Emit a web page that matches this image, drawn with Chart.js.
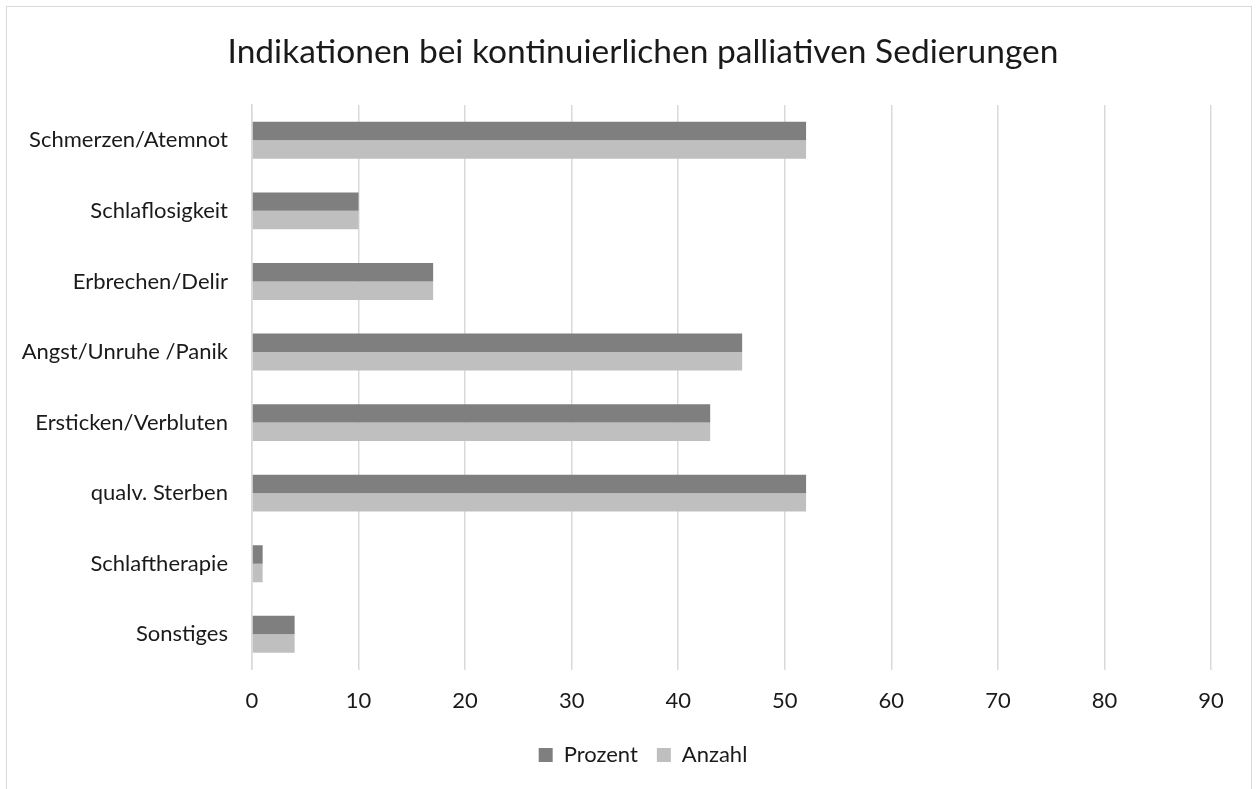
<!DOCTYPE html>
<html lang="de">
<head>
<meta charset="utf-8">
<title>Indikationen bei kontinuierlichen palliativen Sedierungen</title>
<script src="https://cdn.jsdelivr.net/npm/chart.js@4.4.1/dist/chart.umd.min.js"></script>
<style>
  html, body { margin: 0; padding: 0; background: #fff; }
  #wrap { position: relative; width: 1259px; height: 789px; overflow: hidden; }
  #frame {
    position: absolute; left: 6px; top: 6px; width: 1246px; height: 820px;
    border: 1px solid #d9d9d9; box-sizing: border-box; pointer-events: none;
  }
  canvas { position: absolute; left: 0; top: 0; }
</style>
</head>
<body>
<div id="wrap">
  <canvas id="chart" width="1259" height="789"></canvas>
  <div id="frame"></div>
</div>
<script>
const Chart = window.Chart;

// ── Data ───────────────────────────────────────────────────────
const categories = [
  'Schmerzen/Atemnot',
  'Schlaflosigkeit',
  'Erbrechen/Delir',
  'Angst/Unruhe /Panik',
  'Ersticken/Verbluten',
  'qualv. Sterben',
  'Schlaftherapie',
  'Sonstiges',
];
const prozent = [52, 10, 17, 46, 43, 52, 1, 4];
const anzahl  = [52, 10, 17, 46, 43, 52, 1, 4];
const xTicks  = [0, 10, 20, 30, 40, 50, 60, 70, 80, 90];

// ── Look ───────────────────────────────────────────────────────
const FONT      = 'Lato, "Open Sans", sans-serif';
const textColor = '#1a1a1a';
const gridColor = '#d9d9d9';

// left padding shifts title/legend centre to the right of the plot centre
const PAD_LEFT  = 75;
const PAD_RIGHT = 48;
const AXIS_X0   = 252;   // pixel of the value axis origin

// category labels reach into the left padding, so widen the label clip box
const labelClip = {
  id: 'labelClip',
  afterLayout: chart => { chart.scales.y.left = 0; },
};

new Chart(document.getElementById('chart').getContext('2d'), {
  type: 'bar',
  data: {
    labels: categories,
    datasets: [
      { label: 'Prozent', data: prozent, backgroundColor: '#7f7f7f' },
      { label: 'Anzahl',  data: anzahl,  backgroundColor: '#bfbfbf' },
    ],
  },
  plugins: [labelClip],
  options: {
    indexAxis: 'y',
    responsive: false,
    animation: false,
    devicePixelRatio: 1,
    barPercentage: 1,
    categoryPercentage: 0.523,
    layout: { padding: { left: PAD_LEFT, right: PAD_RIGHT, top: 0, bottom: 13 } },
    plugins: {
      tooltip: { enabled: false },
      title: {
        display: true,
        text: 'Indikationen bei kontinuierlichen palliativen Sedierungen',
        color: textColor,
        font: { family: FONT, size: 33.5, weight: 'normal', lineHeight: 1.2 },
        padding: { top: 32, bottom: 32.8 },
      },
      legend: {
        position: 'bottom',
        labels: {
          color: textColor,
          font: { family: FONT, size: 22 },
          boxWidth: 14,
          boxHeight: 14,
          padding: 19,
        },
      },
    },
    scales: {
      x: {
        min: 0,
        max: 90,
        afterBuildTicks: axis => { axis.ticks = xTicks.map(v => ({ value: v })); },
        afterFit: axis => { axis.height -= 7; },
        ticks: { color: textColor, font: { family: FONT, size: 22 }, padding: 18 },
        grid: { color: gridColor, lineWidth: 1.5, drawTicks: false },
        border: { display: false },
      },
      y: {
        afterFit: axis => { axis.width = AXIS_X0 - PAD_LEFT; },
        ticks: { color: textColor, font: { family: FONT, size: 22 }, padding: 24 },
        grid: { display: false, drawTicks: false },
        border: { display: true, color: gridColor, width: 1.5 },
      },
    },
  },
});
</script>
</body>
</html>
